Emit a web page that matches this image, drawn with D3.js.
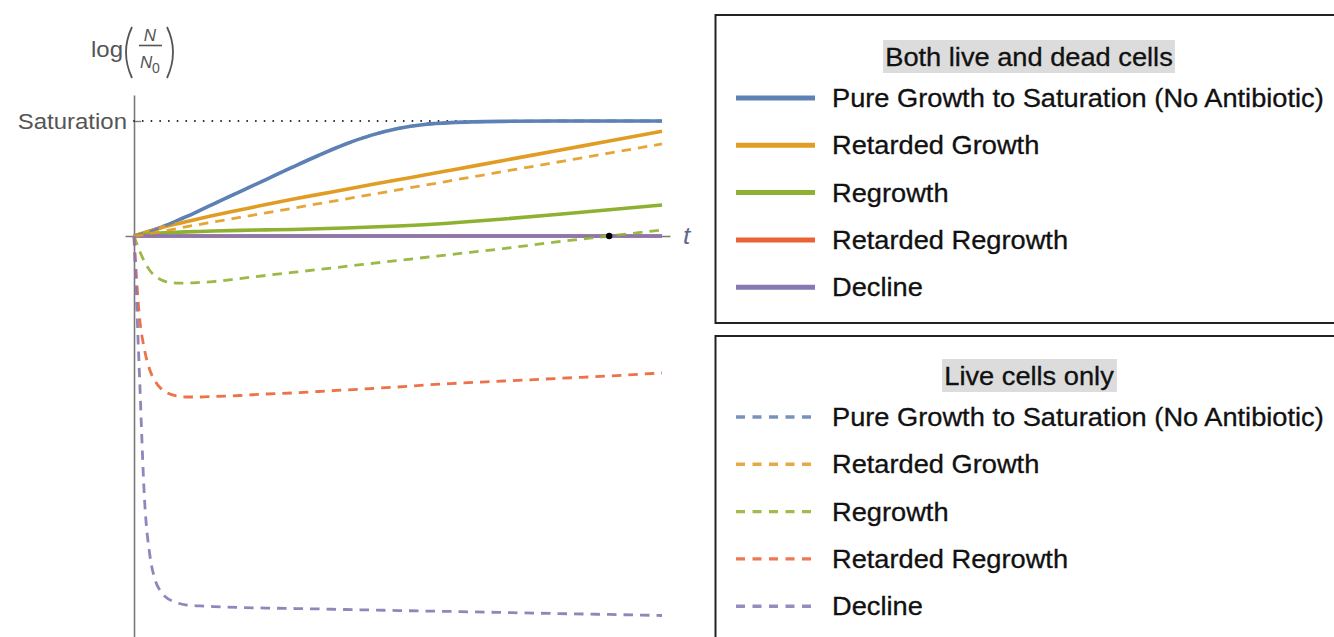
<!DOCTYPE html>
<html>
<head>
<meta charset="utf-8">
<script src="https://cdn.jsdelivr.net/npm/d3@7"></script>
<style>
  html, body { margin: 0; padding: 0; background: #fff; }
  svg { display: block; font-family: "Liberation Sans", Arial, sans-serif; }
</style>
</head>
<body>
<svg id="chart" width="1334" height="637"></svg>
<script>
// ---- data -------------------------------------------------------------
// log(N/N0) in units of the saturation level (Saturation = 1)
const seriesNames = [
  "Pure Growth to Saturation (No Antibiotic)",
  "Retarded Growth",
  "Regrowth",
  "Retarded Regrowth",
  "Decline"
];
const seriesColors = ["#5E81B5", "#E19C24", "#8FB131", "#EB6235", "#8778B3"];
const legendTitles = ["Both live and dead cells", "Live cells only"];

const timePoints = [0, 0.1, 0.2, 0.3, 0.4, 0.5, 0.6, 0.8, 1, 1.25, 1.5, 2, 2.5, 3, 3.5, 4, 4.5, 5, 5.5, 6, 7, 8, 9, 10];

// both live and dead cells
const totalPureGrowth = [0, 0.013, 0.026, 0.041, 0.057, 0.074, 0.091, 0.130, 0.170, 0.223, 0.277, 0.384, 0.491, 0.598, 0.702, 0.798, 0.877, 0.935, 0.970, 0.986, 0.997, 1, 1, 1];
const totalRetardedGrowth = [0, 0.015, 0.030, 0.043, 0.057, 0.070, 0.082, 0.104, 0.126, 0.153, 0.178, 0.226, 0.274, 0.319, 0.362, 0.404, 0.447, 0.489, 0.530, 0.572, 0.657, 0.741, 0.826, 0.910];
const totalRegrowth = [0, 0.009, 0.015, 0.019, 0.023, 0.026, 0.028, 0.032, 0.036, 0.039, 0.043, 0.049, 0.053, 0.057, 0.063, 0.070, 0.078, 0.087, 0.098, 0.113, 0.148, 0.187, 0.228, 0.270];
const totalRetardedRegrowth = [0, 0, 0, 0, 0, 0, 0, 0, 0, 0, 0, 0, 0, 0, 0, 0, 0, 0, 0, 0, 0, 0, 0, 0];
const totalDecline = [0, 0, 0, 0, 0, 0, 0, 0, 0, 0, 0, 0, 0, 0, 0, 0, 0, 0, 0, 0, 0, 0, 0, 0];

// live cells only
const livePureGrowth = [0, 0.013, 0.026, 0.041, 0.057, 0.074, 0.091, 0.130, 0.170, 0.223, 0.277, 0.384, 0.491, 0.598, 0.702, 0.798, 0.877, 0.935, 0.970, 0.986, 0.997, 1, 1, 1];
const liveRetardedGrowth = [0, 0.005, 0.012, 0.020, 0.029, 0.037, 0.046, 0.063, 0.081, 0.101, 0.122, 0.161, 0.201, 0.241, 0.281, 0.321, 0.361, 0.401, 0.441, 0.481, 0.561, 0.641, 0.721, 0.801];
const liveRegrowth = [0, -0.122, -0.226, -0.300, -0.348, -0.378, -0.396, -0.409, -0.409, -0.404, -0.396, -0.370, -0.343, -0.317, -0.291, -0.265, -0.239, -0.213, -0.187, -0.161, -0.109, -0.052, 0, 0.052];
const liveRetardedRegrowth = [0, -0.687, -0.991, -1.165, -1.261, -1.322, -1.357, -1.391, -1.400, -1.400, -1.396, -1.387, -1.374, -1.365, -1.352, -1.339, -1.326, -1.313, -1.296, -1.283, -1.261, -1.239, -1.217, -1.191];
const liveDecline = [0, -1.165, -2.296, -2.774, -2.991, -3.087, -3.139, -3.187, -3.209, -3.217, -3.222, -3.230, -3.235, -3.239, -3.243, -3.248, -3.252, -3.257, -3.261, -3.265, -3.274, -3.283, -3.291, -3.300];

// regrowth of live cells returns to the starting level here
const recoveryPoint = [9, 0];

const saturationLevel = 1;
const yAxisLabel = "Saturation";
const xAxisLabel = "t";

const totalSeries = [totalPureGrowth, totalRetardedGrowth, totalRegrowth, totalRetardedRegrowth, totalDecline];
const liveSeries = [livePureGrowth, liveRetardedGrowth, liveRegrowth, liveRetardedRegrowth, liveDecline];

// ---- scales -------------------------------------------------------------
const svg = d3.select("#chart");
const x = d3.scaleLinear().domain([0, 10]).range([134, 662]);
const y = d3.scaleLinear().domain([0, saturationLevel]).range([236, 121]);
const stretch = "scale(1.09,1)";

const axisColor = "#7a7a7a";
const labelColor = "#555555";

// ---- axes ---------------------------------------------------------------
// horizontal axis: runs a little past both ends of the data
const xAxisScale = d3.scaleLinear().domain([-0.17, 10.15]).range([x(-0.17), x(10.15)]);
const gx = svg.append("g")
  .attr("transform", `translate(0,${y(0)})`)
  .call(d3.axisBottom(xAxisScale).tickValues([]).tickSizeOuter(0));
gx.select(".domain").attr("stroke", axisColor).attr("stroke-width", 1.6);

// vertical axis: a single inward tick at saturation
const yAxisScale = d3.scaleLinear().domain([y.invert(637), y.invert(95)]).range([637, 95]);
const gy = svg.append("g")
  .attr("transform", `translate(${x(0)},0)`)
  .call(d3.axisLeft(yAxisScale)
    .tickValues([saturationLevel])
    .tickFormat(() => yAxisLabel)
    .tickSizeInner(-7)
    .tickSizeOuter(0)
    .tickPadding(7));
gy.select(".domain").attr("stroke", axisColor).attr("stroke-width", 1.6);
gy.selectAll(".tick line").attr("stroke", axisColor).attr("stroke-width", 1.4);
gy.selectAll(".tick text")
  .attr("fill", labelColor)
  .attr("font-size", 22)
  .attr("font-family", "Liberation Sans, Arial, sans-serif")
  .attr("dy", "0.36em")
  .each(function () {
    const t = d3.select(this);
    const tx = +t.attr("x") || -7;
    t.attr("x", null).attr("transform", `translate(${tx},0) ${stretch}`);
  });

// dotted saturation reference line
svg.append("line")
  .attr("x1", x(0)).attr("x2", x(10))
  .attr("y1", y(saturationLevel)).attr("y2", y(saturationLevel))
  .attr("stroke", "#222")
  .attr("stroke-width", 1.8)
  .attr("stroke-linecap", "round")
  .attr("stroke-dasharray", "0.1,8.6");

// axis labels
svg.append("text")
  .attr("transform", `translate(683,${y(0) + 8}) ${stretch}`)
  .attr("font-size", 24)
  .attr("font-style", "italic")
  .attr("fill", "#5f6b88")
  .text(xAxisLabel);

const ylab = svg.append("g").attr("fill", labelColor);
ylab.append("text").attr("transform", `translate(91,57) ${stretch}`).attr("font-size", 22).text("log");
ylab.append("path").attr("d", "M132,27 Q120,52 132,78").attr("fill", "none").attr("stroke", labelColor).attr("stroke-width", 1.8);
ylab.append("path").attr("d", "M167,27 Q179,52 167,78").attr("fill", "none").attr("stroke", labelColor).attr("stroke-width", 1.8);
ylab.append("text").attr("x", 150).attr("y", 41).attr("text-anchor", "middle").attr("font-size", 17).attr("font-style", "italic").text("N");
ylab.append("line").attr("x1", 139).attr("x2", 162).attr("y1", 45.5).attr("y2", 45.5).attr("stroke", labelColor).attr("stroke-width", 1.6);
ylab.append("text").attr("x", 140).attr("y", 68).attr("font-size", 17).attr("font-style", "italic").text("N");
ylab.append("text").attr("x", 152).attr("y", 73).attr("font-size", 14).text("0");

// ---- curves -------------------------------------------------------------
const line = d3.line()
  .x((d, i) => x(timePoints[i]))
  .y(d => y(d))
  .curve(d3.curveMonotoneX);

const solidWidth = 3.6, dashedWidth = 2.8, dashPattern = "9.5,7";

const curves = svg.append("g").attr("fill", "none").attr("stroke-linecap", "butt");

totalSeries.forEach((vals, i) => {
  curves.append("path")
    .attr("d", line(vals))
    .attr("stroke", seriesColors[i])
    .attr("stroke-width", solidWidth);
});

liveSeries.forEach((vals, i) => {
  curves.append("path")
    .attr("d", line(vals))
    .attr("stroke", seriesColors[i])
    .attr("stroke-width", dashedWidth)
    .attr("stroke-dasharray", dashPattern)
    .attr("opacity", 0.9);
});

svg.append("circle")
  .attr("cx", x(recoveryPoint[0]))
  .attr("cy", y(recoveryPoint[1]))
  .attr("r", 3.2)
  .attr("fill", "#000");

// ---- legends ------------------------------------------------------------
function drawLegend(top, height, title, titleTop, dashed) {
  const g = svg.append("g");
  g.append("rect")
    .attr("x", 715.5).attr("y", top)
    .attr("width", 700).attr("height", height)
    .attr("fill", "#fff")
    .attr("stroke", "#222")
    .attr("stroke-width", 2);

  const tg = g.append("g").attr("transform", `translate(1029,${titleTop + 26}) ${stretch}`);
  const bg = tg.append("rect").attr("fill", "#dcdcdc");
  const tt = tg.append("text")
    .attr("text-anchor", "middle")
    .attr("font-size", 25)
    .attr("fill", "#111")
    .attr("stroke", "#111")
    .attr("stroke-width", 0.3)
    .text(title);
  const bb = tt.node().getBBox();
  bg.attr("x", bb.x - 2).attr("width", bb.width + 4)
    .attr("y", -26).attr("height", 33);

  seriesNames.forEach((name, i) => {
    const cy = titleTop + 58 + i * 47.3;
    g.append("line")
      .attr("x1", 736).attr("x2", dashed ? 812 : 815)
      .attr("y1", cy).attr("y2", cy)
      .attr("stroke", seriesColors[i])
      .attr("stroke-width", dashed ? 3.4 : 5)
      .attr("stroke-dasharray", dashed ? "9,7.5" : null)
      .attr("opacity", dashed ? 0.85 : 1);
    g.append("text")
      .attr("transform", `translate(832,${cy + 9}) ${stretch}`)
      .attr("font-size", 25)
      .attr("fill", "#111")
      .attr("stroke", "#111")
      .attr("stroke-width", 0.3)
      .text(name);
  });
}

drawLegend(15, 308, legendTitles[0], 40, false);
drawLegend(336, 330, legendTitles[1], 359, true);
</script>
</body>
</html>
